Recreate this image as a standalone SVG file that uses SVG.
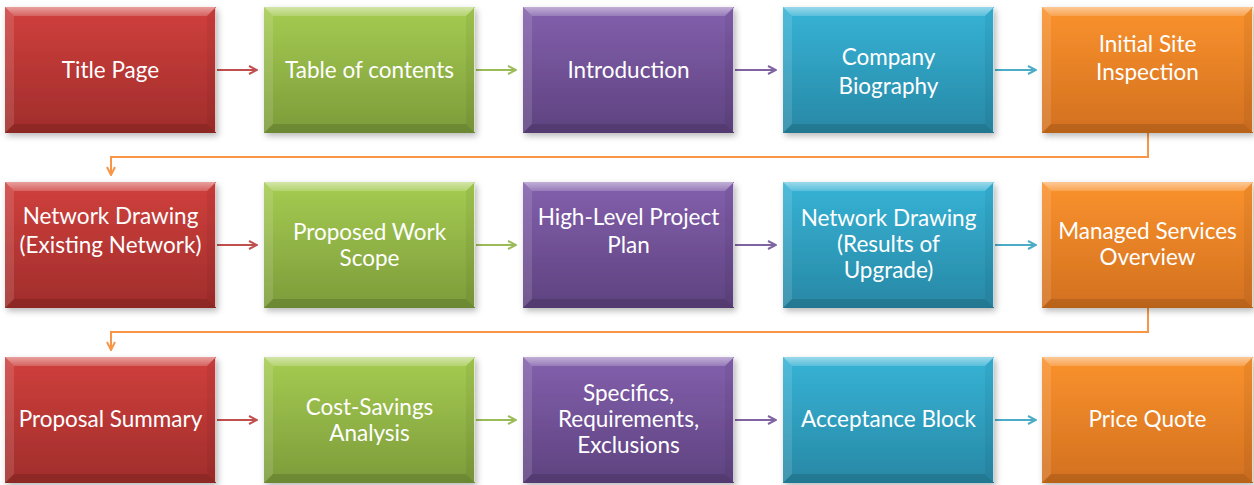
<svg xmlns="http://www.w3.org/2000/svg" xmlns:xlink="http://www.w3.org/1999/xlink" width="1254" height="485" viewBox="0 0 1254 485">
  <style>
    .lbl { font-family: Lato, "Open Sans", "Liberation Sans", sans-serif; font-size: 22.5px; fill: #ffffff; text-anchor: middle; }
    .conn { fill: none; stroke-width: 2; }
    .red { stroke: #c0504d; }
    .green { stroke: #9bbb59; }
    .purple { stroke: #8064a2; }
    .teal { stroke: #4bacc6; }
    .orange { stroke: #f79646; }
  </style>
  <defs>
    <linearGradient id="gRed" x1="0" y1="0" x2="0" y2="1">
      <stop offset="0" stop-color="#d0403d"/>
      <stop offset="1" stop-color="#a02d2b"/>
    </linearGradient>
    <linearGradient id="gGreen" x1="0" y1="0" x2="0" y2="1">
      <stop offset="0" stop-color="#a6cc52"/>
      <stop offset="1" stop-color="#7c9b3a"/>
    </linearGradient>
    <linearGradient id="gPurple" x1="0" y1="0" x2="0" y2="1">
      <stop offset="0" stop-color="#8360ad"/>
      <stop offset="1" stop-color="#5e427f"/>
    </linearGradient>
    <linearGradient id="gTeal" x1="0" y1="0" x2="0" y2="1">
      <stop offset="0" stop-color="#36b3d6"/>
      <stop offset="1" stop-color="#2888a5"/>
    </linearGradient>
    <linearGradient id="gOrange" x1="0" y1="0" x2="0" y2="1">
      <stop offset="0" stop-color="#fa922d"/>
      <stop offset="1" stop-color="#d2701f"/>
    </linearGradient>
    <linearGradient id="gTopBevel" x1="0" y1="0" x2="0" y2="1">
      <stop offset="0" stop-color="#ffffff" stop-opacity="0.5"/>
      <stop offset="1" stop-color="#ffffff" stop-opacity="0.18"/>
    </linearGradient>
    <filter id="shadow" x="-10%" y="-10%" width="125%" height="130%">
      <feDropShadow dx="2" dy="3" stdDeviation="3" flood-color="#000000" flood-opacity="0.28"/>
    </filter>
    <!-- bevel frame for a 211 x 126 box, inset 9 -->
    <g id="bevel">
      <polygon points="0,0 211,0 202,9 9,9" fill="url(#gTopBevel)"/>
      <polygon points="0,0 9,9 9,117 0,126" fill="#ffffff" fill-opacity="0.12"/>
      <polygon points="211,0 211,126 202,117 202,9" fill="#000000" fill-opacity="0.05"/>
      <polygon points="0,126 9,117 202,117 211,126" fill="#000000" fill-opacity="0.12"/>
      <line x1="210.5" y1="1" x2="210.5" y2="125" stroke="#ffffff" stroke-opacity="0.7" stroke-width="1"/>
    </g>
    <marker id="arrRed" viewBox="0 0 10 10" refX="9" refY="5" markerWidth="5" markerHeight="5" orient="auto" markerUnits="strokeWidth">
      <path d="M1,1 L9,5 L1,9" fill="none" stroke="#c0504d" stroke-width="2"/>
    </marker>
    <marker id="arrGreen" viewBox="0 0 10 10" refX="9" refY="5" markerWidth="5" markerHeight="5" orient="auto" markerUnits="strokeWidth">
      <path d="M1,1 L9,5 L1,9" fill="none" stroke="#9bbb59" stroke-width="2"/>
    </marker>
    <marker id="arrPurple" viewBox="0 0 10 10" refX="9" refY="5" markerWidth="5" markerHeight="5" orient="auto" markerUnits="strokeWidth">
      <path d="M1,1 L9,5 L1,9" fill="none" stroke="#8064a2" stroke-width="2"/>
    </marker>
    <marker id="arrTeal" viewBox="0 0 10 10" refX="9" refY="5" markerWidth="5" markerHeight="5" orient="auto" markerUnits="strokeWidth">
      <path d="M1,1 L9,5 L1,9" fill="none" stroke="#4bacc6" stroke-width="2"/>
    </marker>
    <marker id="arrOrange" viewBox="0 0 10 10" refX="9" refY="5" markerWidth="5" markerHeight="5" orient="auto" markerUnits="strokeWidth">
      <path d="M1,1 L9,5 L1,9" fill="none" stroke="#f79646" stroke-width="2"/>
    </marker>
  </defs>

  <rect width="1254" height="485" fill="#ffffff"/>

  <!-- connectors -->
  <g id="connectors">
    <line class="conn red" x1="217" y1="70" x2="257" y2="70" marker-end="url(#arrRed)"/>
    <line class="conn green" x1="476" y1="70" x2="516" y2="70" marker-end="url(#arrGreen)"/>
    <line class="conn purple" x1="735" y1="70" x2="776" y2="70" marker-end="url(#arrPurple)"/>
    <line class="conn teal" x1="995" y1="70" x2="1036" y2="70" marker-end="url(#arrTeal)"/>
    <polyline class="conn orange" points="1148,133 1148,157 111,157 111,175" marker-end="url(#arrOrange)"/>

    <line class="conn red" x1="217" y1="245" x2="257" y2="245" marker-end="url(#arrRed)"/>
    <line class="conn green" x1="476" y1="245" x2="516" y2="245" marker-end="url(#arrGreen)"/>
    <line class="conn purple" x1="735" y1="245" x2="776" y2="245" marker-end="url(#arrPurple)"/>
    <line class="conn teal" x1="995" y1="245" x2="1036" y2="245" marker-end="url(#arrTeal)"/>
    <polyline class="conn orange" points="1148,308 1148,332 111,332 111,350" marker-end="url(#arrOrange)"/>

    <line class="conn red" x1="217" y1="420" x2="257" y2="420" marker-end="url(#arrRed)"/>
    <line class="conn green" x1="476" y1="420" x2="516" y2="420" marker-end="url(#arrGreen)"/>
    <line class="conn purple" x1="735" y1="420" x2="776" y2="420" marker-end="url(#arrPurple)"/>
    <line class="conn teal" x1="995" y1="420" x2="1036" y2="420" marker-end="url(#arrTeal)"/>
  </g>

  <!-- row 1 -->
  <g id="title-page" transform="translate(5,7)">
    <rect width="211" height="126" fill="url(#gRed)" filter="url(#shadow)"/>
    <use xlink:href="#bevel"/>
    <text class="lbl" x="105.5" y="71">Title Page</text>
  </g>
  <g id="table-of-contents" transform="translate(264,7)">
    <rect width="211" height="126" fill="url(#gGreen)" filter="url(#shadow)"/>
    <use xlink:href="#bevel"/>
    <text class="lbl" x="105.5" y="71">Table of contents</text>
  </g>
  <g id="introduction" transform="translate(523,7)">
    <rect width="211" height="126" fill="url(#gPurple)" filter="url(#shadow)"/>
    <use xlink:href="#bevel"/>
    <text class="lbl" x="105.5" y="71">Introduction</text>
  </g>
  <g id="company-biography" transform="translate(783,7)">
    <rect width="211" height="126" fill="url(#gTeal)" filter="url(#shadow)"/>
    <use xlink:href="#bevel"/>
    <text class="lbl" x="105.5" y="58">Company</text>
    <text class="lbl" x="105.5" y="87">Biography</text>
  </g>
  <g id="initial-site-inspection" transform="translate(1042,7)">
    <rect width="211" height="126" fill="url(#gOrange)" filter="url(#shadow)"/>
    <use xlink:href="#bevel"/>
    <text class="lbl" x="105.5" y="45">Initial Site</text>
    <text class="lbl" x="105.5" y="73">Inspection</text>
  </g>

  <!-- row 2 -->
  <g id="network-drawing-existing" transform="translate(5,182)">
    <rect width="211" height="126" fill="url(#gRed)" filter="url(#shadow)"/>
    <use xlink:href="#bevel"/>
    <text class="lbl" x="105.5" y="42">Network Drawing</text>
    <text class="lbl" x="105.5" y="71">(Existing Network)</text>
  </g>
  <g id="proposed-work-scope" transform="translate(264,182)">
    <rect width="211" height="126" fill="url(#gGreen)" filter="url(#shadow)"/>
    <use xlink:href="#bevel"/>
    <text class="lbl" x="105.5" y="58">Proposed Work</text>
    <text class="lbl" x="105.5" y="84">Scope</text>
  </g>
  <g id="high-level-project-plan" transform="translate(523,182)">
    <rect width="211" height="126" fill="url(#gPurple)" filter="url(#shadow)"/>
    <use xlink:href="#bevel"/>
    <text class="lbl" x="105.5" y="43">High-Level Project</text>
    <text class="lbl" x="105.5" y="71">Plan</text>
  </g>
  <g id="network-drawing-results" transform="translate(783,182)">
    <rect width="211" height="126" fill="url(#gTeal)" filter="url(#shadow)"/>
    <use xlink:href="#bevel"/>
    <text class="lbl" x="105.5" y="44">Network Drawing</text>
    <text class="lbl" x="105.5" y="70">(Results of</text>
    <text class="lbl" x="105.5" y="96">Upgrade)</text>
  </g>
  <g id="managed-services-overview" transform="translate(1042,182)">
    <rect width="211" height="126" fill="url(#gOrange)" filter="url(#shadow)"/>
    <use xlink:href="#bevel"/>
    <text class="lbl" x="105.5" y="57">Managed Services</text>
    <text class="lbl" x="105.5" y="83">Overview</text>
  </g>

  <!-- row 3 -->
  <g id="proposal-summary" transform="translate(5,357)">
    <rect width="211" height="126" fill="url(#gRed)" filter="url(#shadow)"/>
    <use xlink:href="#bevel"/>
    <text class="lbl" x="105.5" y="70">Proposal Summary</text>
  </g>
  <g id="cost-savings-analysis" transform="translate(264,357)">
    <rect width="211" height="126" fill="url(#gGreen)" filter="url(#shadow)"/>
    <use xlink:href="#bevel"/>
    <text class="lbl" x="105.5" y="58">Cost-Savings</text>
    <text class="lbl" x="105.5" y="84">Analysis</text>
  </g>
  <g id="specifics-requirements-exclusions" transform="translate(523,357)">
    <rect width="211" height="126" fill="url(#gPurple)" filter="url(#shadow)"/>
    <use xlink:href="#bevel"/>
    <text class="lbl" x="105.5" y="44">Specifics,</text>
    <text class="lbl" x="105.5" y="70">Requirements,</text>
    <text class="lbl" x="105.5" y="96">Exclusions</text>
  </g>
  <g id="acceptance-block" transform="translate(783,357)">
    <rect width="211" height="126" fill="url(#gTeal)" filter="url(#shadow)"/>
    <use xlink:href="#bevel"/>
    <text class="lbl" x="105.5" y="70">Acceptance Block</text>
  </g>
  <g id="price-quote" transform="translate(1042,357)">
    <rect width="211" height="126" fill="url(#gOrange)" filter="url(#shadow)"/>
    <use xlink:href="#bevel"/>
    <text class="lbl" x="105.5" y="70">Price Quote</text>
  </g>
</svg>
